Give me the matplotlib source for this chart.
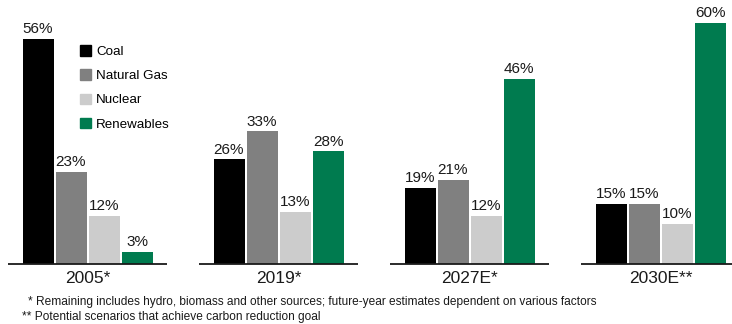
import numpy as np
import matplotlib.pyplot as plt
from matplotlib.patches import Patch

plt.rcParams['font.family'] = ['Liberation Sans', 'DejaVu Sans']

#-----
# data
years = ['2005*', '2019*', '2027E*', '2030E**']
sources = ['Coal', 'Natural Gas', 'Nuclear', 'Renewables']
coal = [56, 26, 19, 15]
gas = [23, 33, 21, 15]
nuclear = [12, 13, 12, 10]
renew = [3, 28, 46, 60]
colors = ['#000000', '#808080', '#cccccc', '#007b4f']
notes = ['* Remaining includes hydro, biomass and other sources; future-year estimates dependent on various factors',
         '** Potential scenarios that achieve carbon reduction goal']
#-----

W, H = 732, 324
fig = plt.figure(figsize=(W/100, H/100), dpi=100)
ax = fig.add_axes([0, 0, 1, 1])

gpx = 191.0      # group spacing in px
ppu = 4.02       # px per percent
base = 60        # baseline from bottom in px
ax.set_xlim(-87.5/gpx, (W-87.5)/gpx)
ax.set_ylim(-base/ppu, (H-base)/ppu)
ax.axis('off')

x = np.arange(len(years))
step = 33/gpx
width = 31/gpx
series = [coal, gas, nuclear, renew]
for i, vals in enumerate(series):
  pos = x + (i-1.5)*step
  bars = ax.bar(pos, vals, width, color=colors[i], label=sources[i])
  for p, v in zip(pos, vals):
    ax.annotate(str(v)+'%', (p, v), xytext=(0, 2), textcoords='offset points',
                ha='center', va='bottom', fontsize=11, color='#1a1a1a')

for g in x:
  ax.hlines(0, g-0.415, g+0.415, color='#1a1a1a', lw=1.3)
  ax.annotate(years[g], (g, 0), xytext=(0, -5), textcoords='offset points',
              ha='center', va='top', fontsize=12.5, color='#1a1a1a')

handles = [Patch(color=c, label=s) for c, s in zip(colors, sources)]
ax.legend(handles=handles, loc='upper left', bbox_to_anchor=(80/W, 1-45/H),
          frameon=False, fontsize=9.6, handlelength=0.85, handleheight=0.85,
          handletextpad=0.35, labelspacing=0.85, borderpad=0, borderaxespad=0)

fig.text(28/W, 1-305/H, notes[0], fontsize=8.6, color='#1a1a1a', va='baseline')
fig.text(22/W, 1-320/H, notes[1], fontsize=8.6, color='#1a1a1a', va='baseline')

plt.savefig('out.png', dpi=100)
